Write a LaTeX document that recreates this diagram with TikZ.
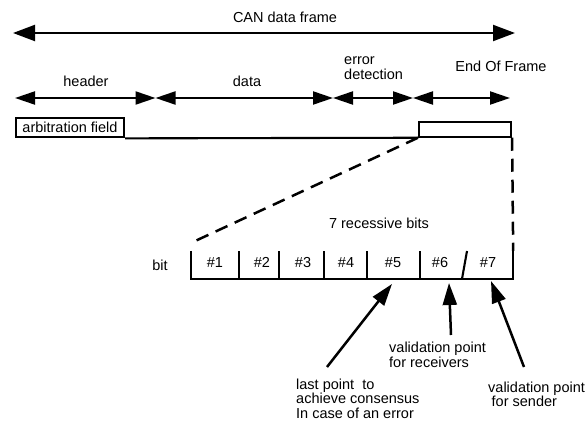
\documentclass[tikz,border=0pt]{standalone}
\usepackage{fontspec}
\setmainfont{Liberation Sans}
\usetikzlibrary{arrows.meta}

% left-aligned block of lines whose baseline is that of the first line
\newcommand\linesleft[1]{\vtop{\baselineskip=14.8pt\halign{##\hfil\cr#1\crcr}}}

\begin{document}
\begin{tikzpicture}[x=1pt,y=-1pt,
  lbl/.style={inner sep=0pt, font=\fontsize{14.5}{14.8}\selectfont},
  rule/.style={line width=2.1pt},
  bigspan/.style={line width=2.1pt,
    {Triangle[length=22pt,width=16pt]}-{Triangle[length=22pt,width=16pt]}},
  span/.style={line width=2.1pt,
    {Triangle[length=20pt,width=13pt]}-{Triangle[length=20pt,width=13pt]}},
  zoomline/.style={line width=2.5pt, dash pattern=on 13pt off 8pt},
  pointer/.style={line width=2.5pt, -{Triangle[length=22pt,width=14pt]}}
]
\useasboundingbox (0,0) rectangle (587,425);

% whole frame
\coordinate (f0) at (13,33);
\coordinate (f1) at (515,33);
\draw[bigspan] (f0) -- (f1);
\node[lbl, anchor=base] (title) at (285,23) {CAN data frame};

% frame sections
\coordinate (s0) at (15,98);
\coordinate (s1) at (155.5,98);
\coordinate (s2) at (333,98);
\coordinate (s3) at (413,98);
\coordinate (s4) at (510,98);
\draw[span] (s0) -- (s1);
\draw[span] (s1) -- (s2);
\draw[span] (s2) -- (s3);
\draw[span] (s3) -- (s4);
\node[lbl, anchor=base] (hdr) at (86,87) {header};
\node[lbl, anchor=base] (dat) at (247,87) {data};
\node[lbl, anchor=base west] (err) at (344,64.3) {\linesleft{error\cr detection}};
\node[lbl, anchor=base] (eoft) at (501,72) {End Of Frame};

% frame bar
\node[lbl, draw, rule, minimum width=108pt, minimum height=19pt] (arb) at (70,127.8) {arbitration field};
\node[draw, rule, inner sep=0pt, minimum width=92pt, minimum height=15pt] (eof) at (465,129.2) {};
\draw[rule] (arb.south east) -- (eof.south west);

% the seven recessive bits
\node[inner sep=0pt, minimum width=322pt, minimum height=28pt] (bits) at (352,265) {};
\draw[rule] (bits.north west) -- (bits.south west) -- (bits.south east) -- (bits.north east);
\foreach \x in {239,279,324,367,420}
  \draw[rule] (\x,279) -- (\x,251);
\draw[rule] (462,279) -- (467,251);
\node[lbl, anchor=base] (bitlbl) at (160,270) {bit};
\node[lbl, anchor=base] (rec) at (379,229) {7 recessive bits};
\node[lbl, anchor=base] (b1) at (215,267) {\#1};
\node[lbl, anchor=base] (b2) at (262,267) {\#2};
\node[lbl, anchor=base] (b3) at (303,267) {\#3};
\node[lbl, anchor=base] (b4) at (346,267) {\#4};
\node[lbl, anchor=base] (b5) at (393,267) {\#5};
\node[lbl, anchor=base] (b6) at (440,267) {\#6};
\node[lbl, anchor=base] (b7) at (488,267) {\#7};

% zoom lines from End Of Frame to the bits
\coordinate (zl) at (193,242);
\draw[zoomline] (eof.south west) -- (zl);
\draw[zoomline] (eof.south east) -- (bits.north east);

% annotations
\node[lbl, anchor=base west] (last) at (296,389)
  {\linesleft{last point\ \ to\cr achieve consensus\cr In case of an error}};
\node[lbl, anchor=base west] (recv) at (389,352.5)
  {\linesleft{validation point\cr for receivers}};
\node[lbl, anchor=base west] (send) at (488,392)
  {\linesleft{validation point\cr\hskip3.5pt for sender}};

\coordinate (t5) at (327,367);
\coordinate (t6) at (451,335);
\coordinate (t7) at (524,367);
\coordinate (p5) at (392,284);
\coordinate (p6) at (449,283);
\coordinate (p7) at (491,281);
\draw[pointer] (t5) -- (p5);
\draw[pointer] (t6) -- (p6);
\draw[pointer] (t7) -- (p7);
\end{tikzpicture}
\end{document}
